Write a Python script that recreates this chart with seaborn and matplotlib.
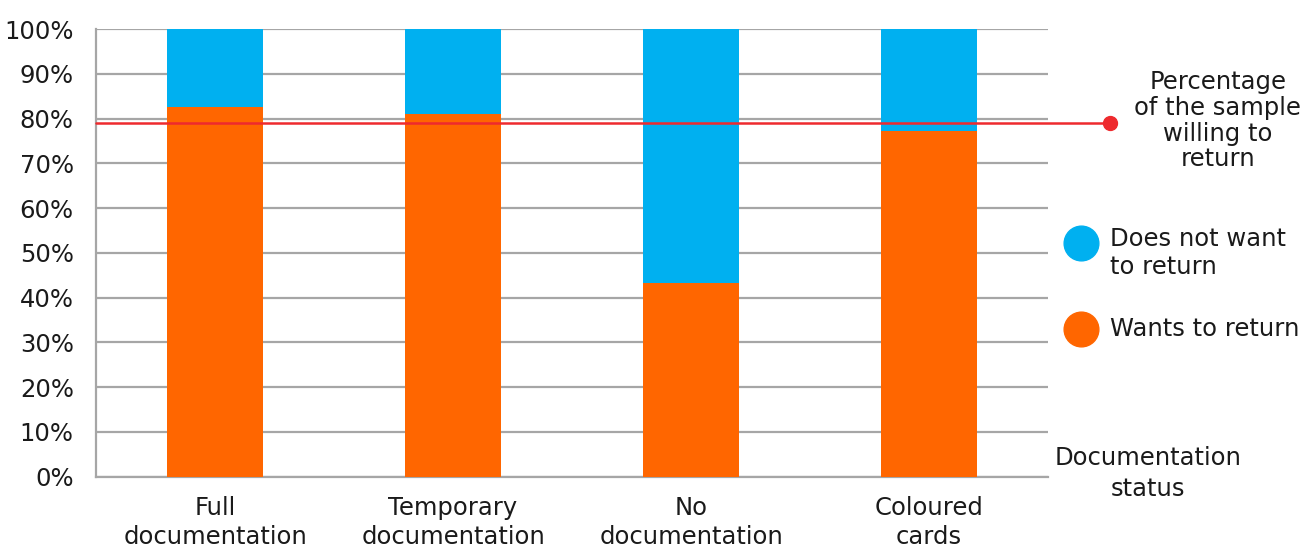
import matplotlib
matplotlib.use("Agg")
import matplotlib.pyplot as plt
import matplotlib.transforms as mtransforms
from matplotlib.lines import Line2D
import seaborn as sns
import pandas as pd

# Dados
categorias = ["Full\ndocumentation", "Temporary\ndocumentation", "No\ndocumentation", "Coloured\ncards"]
quer_voltar = [82.5, 81.0, 43.2, 77.3]
nao_quer_voltar = [100 - v for v in quer_voltar]
media_amostra = 79.1
rotulos_y = ["0%", "10%", "20%", "30%", "40%", "50%", "60%", "70%", "80%", "90%", "100%"]
legenda = ["Does not want\nto return", "Wants to return"]

AZUL = "#00B0F0"
LARANJA = "#FF6600"
VERMELHO = "#EE2A2E"
CINZA = "#A6A6A6"
TEXTO = "#1a1a1a"
FS = 17.5

sns.set_style("white")
plt.rcParams["font.family"] = ["DejaVu Sans"]

df = pd.DataFrame({
    "cat": categorias,
    "total": [a + b for a, b in zip(quer_voltar, nao_quer_voltar)],
    "quer": quer_voltar,
})

fig = plt.figure(figsize=(13.06, 5.48), dpi=100)
ax = fig.add_axes([0.0735, 0.130, 0.729, 0.817])

sns.barplot(data=df, x="cat", y="total", color=AZUL, width=0.4, saturation=1, linewidth=0, ax=ax, zorder=2)
sns.barplot(data=df, x="cat", y="quer", color=LARANJA, width=0.4, saturation=1, linewidth=0, ax=ax, zorder=3)

ax.set_xlim(-0.5, len(categorias) - 0.5)
ax.set_ylim(0, 100)
ax.set_yticks(range(0, 101, 10))
ax.set_yticklabels(rotulos_y)
ax.yaxis.grid(True, color=CINZA, linewidth=1.6, zorder=0)
ax.set_axisbelow(True)

for s in ["top", "right"]:
    ax.spines[s].set_visible(False)
for s in ["left", "bottom"]:
    ax.spines[s].set_color(CINZA)
    ax.spines[s].set_linewidth(1.6)

ax.tick_params(axis="y", length=8, width=1.6, color=CINZA, pad=8, labelsize=FS, labelcolor=TEXTO)
ax.set_xticks(range(len(categorias)))
ax.set_xticklabels(categorias, linespacing=1.25)
ax.set_xticks([i - 0.5 for i in range(len(categorias) + 1)], minor=True)
ax.tick_params(axis="x", which="major", length=0, pad=14, labelsize=FS, labelcolor=TEXTO)
ax.tick_params(axis="x", which="minor", length=8, width=1.6, color=CINZA)
ax.set_xlabel("")
ax.set_ylabel("")

# Linha da média da amostra
trans = mtransforms.blended_transform_factory(ax.transAxes, ax.transData)
ax.plot([0, 1.065], [media_amostra, media_amostra], color=VERMELHO, linewidth=1.8,
        transform=trans, clip_on=False, zorder=5)
ax.plot([1.065], [media_amostra], marker="o", markersize=10, color=VERMELHO,
        transform=trans, clip_on=False, zorder=6)

fig.text(0.9325, 0.780, "Percentage\nof the sample\nwilling to\nreturn", ha="center", va="center",
         fontsize=FS, color=TEXTO, linespacing=1.1)
fig.text(0.879, 0.136, "Documentation\nstatus", ha="center", va="center",
         fontsize=FS, color=TEXTO, linespacing=1.35)

# Legenda manual (círculos + texto)
for cor, rotulo, y_circ, y_txt in zip([AZUL, LARANJA], legenda, [0.5566, 0.3996], [0.5385, 0.3996]):
    fig.add_artist(Line2D([0.8277], [y_circ], marker="o", markersize=25, color=cor,
                          linestyle="", transform=fig.transFigure))
    fig.text(0.850, y_txt, rotulo, ha="left", va="center", fontsize=FS, color=TEXTO, linespacing=1.25)

fig.savefig("out.png", dpi=100)
